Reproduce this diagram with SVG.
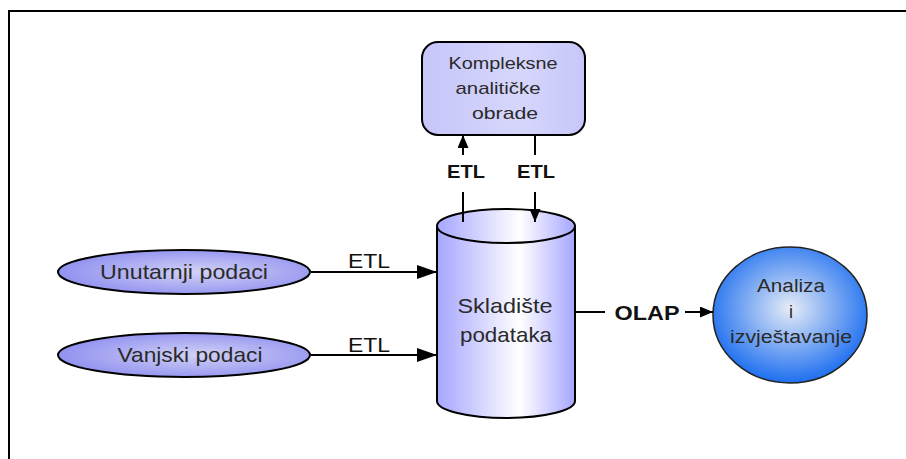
<svg xmlns="http://www.w3.org/2000/svg" width="906" height="459" viewBox="0 0 906 459">
<defs>
<linearGradient id="cylGrad" x1="0" y1="0" x2="1" y2="0">
<stop offset="0" stop-color="#a6a6ff"/>
<stop offset="0.6" stop-color="#ffffff"/>
<stop offset="1" stop-color="#a6a6ff"/>
</linearGradient>
<radialGradient id="ellGrad" cx="0.55" cy="0.5" r="0.6">
<stop offset="0" stop-color="#d2d2f6"/>
<stop offset="1" stop-color="#8c8cf0"/>
</radialGradient>
<linearGradient id="boxGrad" x1="0" y1="0" x2="1" y2="0">
<stop offset="0" stop-color="#c6c6fa"/>
<stop offset="0.6" stop-color="#d6d6fc"/>
<stop offset="1" stop-color="#c6c6fa"/>
</linearGradient>
<radialGradient id="circGrad" cx="0.5" cy="0.45" r="0.55">
<stop offset="0" stop-color="#e6ecf6"/>
<stop offset="1" stop-color="#1e6ff0"/>
</radialGradient>
<marker id="arr" markerWidth="20" markerHeight="14" refX="20" refY="7" orient="auto" markerUnits="userSpaceOnUse">
<path d="M0,0 L20,7 L0,14 Z" fill="#000"/>
</marker>
<marker id="arrs" markerWidth="13" markerHeight="11" refX="13" refY="5.5" orient="auto" markerUnits="userSpaceOnUse">
<path d="M0,0 L13,5.5 L0,11 Z" fill="#000"/>
</marker>
</defs>
<style>
.t{font-family:"Liberation Sans",Arial,sans-serif;fill:#2a2a2a;text-anchor:middle}
.lbl{font-family:"Liberation Sans",Arial,sans-serif;fill:#111;text-anchor:middle}
.b{font-weight:bold}
.ln{stroke:#000;stroke-width:2;fill:none}
.shape{stroke:#000;stroke-width:2}
</style>
<rect width="906" height="459" fill="#fff"/>
<path d="M9,459 L9,11 L906,11" fill="none" stroke="#000" stroke-width="2"/>

<g id="kompleksne">
<rect x="422" y="42" width="163" height="93" rx="16" ry="16" fill="url(#boxGrad)" class="shape"/>
<text class="t" x="503" y="69" font-size="17" textLength="109" lengthAdjust="spacingAndGlyphs">Kompleksne</text>
<text class="t" x="498" y="94" font-size="17" textLength="85" lengthAdjust="spacingAndGlyphs">analitičke</text>
<text class="t" x="505" y="119" font-size="17" textLength="66" lengthAdjust="spacingAndGlyphs">obrade</text>
</g>

<g id="unutarnji">
<ellipse cx="184" cy="272" rx="126" ry="22" fill="url(#ellGrad)" class="shape"/>
<text class="t" x="184" y="279" font-size="21" textLength="168" lengthAdjust="spacingAndGlyphs">Unutarnji podaci</text>
</g>

<g id="vanjski">
<ellipse cx="184" cy="355" rx="126" ry="22" fill="url(#ellGrad)" class="shape"/>
<text class="t" x="190" y="362" font-size="21" textLength="145" lengthAdjust="spacingAndGlyphs">Vanjski podaci</text>
</g>

<g id="skladiste">
<path d="M437,226 L437,401 A69,17 0 0 0 575,401 L575,226" fill="url(#cylGrad)" class="shape"/>
<ellipse cx="506" cy="226" rx="69" ry="17" fill="url(#cylGrad)" class="shape"/>
<text class="t" x="505" y="313" font-size="21" textLength="95" lengthAdjust="spacingAndGlyphs">Skladište</text>
<text class="t" x="506" y="342" font-size="21" textLength="92" lengthAdjust="spacingAndGlyphs">podataka</text>
</g>

<g id="analiza">
<ellipse cx="790" cy="315" rx="77" ry="68" fill="url(#circGrad)" stroke="#222" stroke-width="1.5"/>
<text class="t" x="791" y="292" font-size="18" textLength="68" lengthAdjust="spacingAndGlyphs">Analiza</text>
<text class="t" x="791" y="318" font-size="18">i</text>
<text class="t" x="791" y="343" font-size="18" textLength="122" lengthAdjust="spacingAndGlyphs">izvještavanje</text>
</g>

<g id="connectors">
<line class="ln" x1="311" y1="272" x2="437" y2="272" marker-end="url(#arr)"/>
<line class="ln" x1="311" y1="355" x2="437" y2="355" marker-end="url(#arr)"/>
<text class="lbl" x="369" y="268" font-size="21" textLength="42" lengthAdjust="spacingAndGlyphs">ETL</text>
<text class="lbl" x="369" y="352" font-size="21" textLength="42" lengthAdjust="spacingAndGlyphs">ETL</text>

<line class="ln" x1="463" y1="222" x2="463" y2="192"/>
<line class="ln" x1="463" y1="155" x2="463" y2="135" marker-end="url(#arrs)"/>
<text class="lbl b" x="466" y="178" font-size="18" textLength="38" lengthAdjust="spacingAndGlyphs">ETL</text>

<line class="ln" x1="535" y1="135" x2="535" y2="155"/>
<line class="ln" x1="535" y1="192" x2="535" y2="222" marker-end="url(#arrs)"/>
<text class="lbl b" x="536" y="178" font-size="18" textLength="38" lengthAdjust="spacingAndGlyphs">ETL</text>

<line class="ln" x1="575" y1="312" x2="605" y2="312"/>
<text class="lbl b" x="647" y="320" font-size="21" textLength="65" lengthAdjust="spacingAndGlyphs">OLAP</text>
<line class="ln" x1="685" y1="312" x2="713" y2="312" marker-end="url(#arrs)"/>
</g>
</svg>
